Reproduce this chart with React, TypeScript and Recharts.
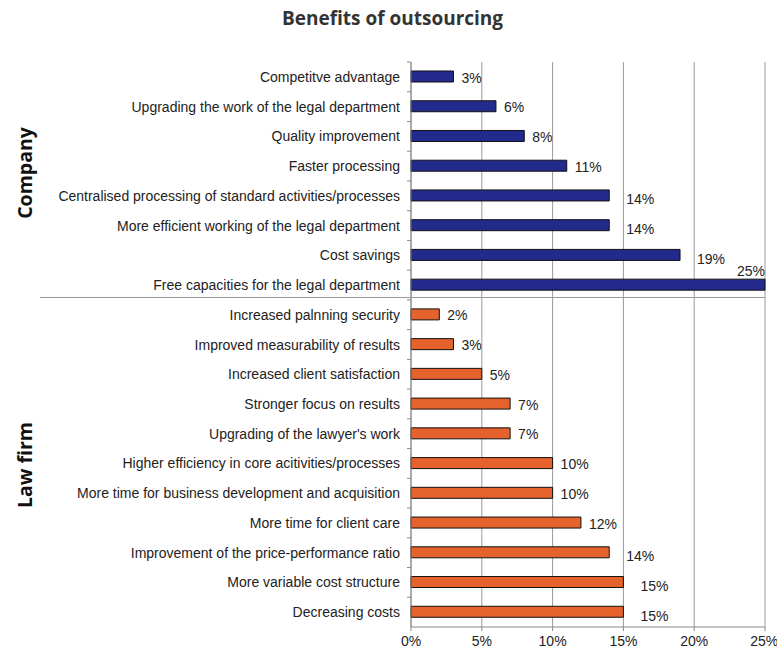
import { Bar, BarChart, CartesianGrid, Cell, LabelList, XAxis, YAxis } from 'recharts'

const companyItems = [
  'Competitve advantage',
  'Upgrading the work of the legal department',
  'Quality improvement',
  'Faster processing',
  'Centralised processing of standard activities/processes',
  'More efficient working of the legal department',
  'Cost savings',
  'Free capacities for the legal department',
]
const companyValues = [3, 6, 8, 11, 14, 14, 19, 25]

const lawFirmItems = [
  'Increased palnning security',
  'Improved measurability of results',
  'Increased client satisfaction',
  'Stronger focus on results',
  "Upgrading of the lawyer's work",
  'Higher efficiency in core acitivities/processes',
  'More time for business development and acquisition',
  'More time for client care',
  'Improvement of the price-performance ratio',
  'More variable cost structure',
  'Decreasing costs',
]
const lawFirmValues = [2, 3, 5, 7, 7, 10, 10, 12, 14, 15, 15]

const xTicks = [0, 5, 10, 15, 20, 25]

const COLORS = {
  company: '#222b8c',
  lawFirm: '#e5622d',
}

const data = [
  ...companyItems.map((name, i) => ({ name, value: companyValues[i], group: 'company' })),
  ...lawFirmItems.map((name, i) => ({ name, value: lawFirmValues[i], group: 'lawFirm' })),
]

const W = 777
const H = 650
const TOP = 62
const BOTTOM = 627
const AXIS_X = 411
const BAND = (BOTTOM - TOP) / data.length
const FONT = '"Liberation Sans", Arial, sans-serif'

// text centred on the band, tick marks on the band boundaries like Excel does
function CategoryTick(props: any) {
  const { y, payload } = props
  return (
    <g>
      <line x1={AXIS_X - 4} x2={AXIS_X} y1={y - BAND / 2} y2={y - BAND / 2} stroke="#888" />
      <text x={AXIS_X - 11} y={y} textAnchor="end" dominantBaseline="central" fontSize={14} fontFamily={FONT} fill="#222">
        {payload.value}
      </text>
    </g>
  )
}

function renderValue(props: any) {
  const { x, y, width, height, value } = props
  const end = x + width
  if (value >= 25) {
    return (
      <text x={end} y={y - 3} textAnchor="end" fontSize={14} fontFamily={FONT} fill="#222">
        {value}%
      </text>
    )
  }
  const gap = value >= 14 ? 17 : 8
  const dy = value >= 14 ? 4 : 1
  return (
    <text x={end + gap} y={y + height / 2 + dy} dominantBaseline="central" fontSize={14} fontFamily={FONT} fill="#222">
      {value}%
    </text>
  )
}

const groupLabel = {
  position: 'absolute' as const,
  left: 24,
  transform: 'translate(-50%, -50%) rotate(-90deg)',
  fontFamily: '"Open Sans", sans-serif',
  fontWeight: 700,
  fontSize: 19.5,
  color: '#111',
  whiteSpace: 'nowrap' as const,
}

export default function App() {
  return (
    <div style={{ position: 'absolute', left: 0, top: 0, width: W, height: H, background: '#fff' }}>
      <div
        style={{
          position: 'absolute',
          top: 5,
          left: 0,
          width: W,
          textAlign: 'center',
          fontFamily: '"Open Sans", sans-serif',
          fontWeight: 700,
          fontSize: 19,
          color: '#333',
          paddingLeft: 4,
        }}
      >
        Benefits of outsourcing
      </div>
      <BarChart
        width={W}
        height={H}
        data={data}
        layout="vertical"
        margin={{ top: TOP, right: 12, bottom: 0, left: 0 }}
        barCategoryGap={0}
      >
        <CartesianGrid horizontal={false} stroke="#9a9a9a" />
        <XAxis
          type="number"
          domain={[0, 25]}
          ticks={xTicks}
          tickFormatter={(v) => `${v}%`}
          height={H - BOTTOM}
          axisLine={{ stroke: '#888' }}
          tickLine={{ stroke: '#888' }}
          tickSize={4}
          tickMargin={5}
          tick={{ fontSize: 14, fontFamily: FONT, fill: '#222' }}
        />
        <YAxis
          type="category"
          dataKey="name"
          width={AXIS_X}
          axisLine={{ stroke: '#888' }}
          tickLine={false}
          tick={<CategoryTick />}
          interval={0}
        />
        <Bar dataKey="value" barSize={11} stroke="#111" strokeWidth={1} isAnimationActive={false}>
          {data.map((d) => (
            <Cell key={d.name} fill={d.group === 'company' ? COLORS.company : COLORS.lawFirm} />
          ))}
          <LabelList dataKey="value" content={renderValue} />
        </Bar>
      </BarChart>
      <div style={{ position: 'absolute', left: 40, top: 297, width: 725, height: 1, background: '#9a9a9a' }} />
      <div style={{ ...groupLabel, top: 173 }}>Company</div>
      <div style={{ ...groupLabel, top: 465 }}>Law firm</div>
    </div>
  )
}
